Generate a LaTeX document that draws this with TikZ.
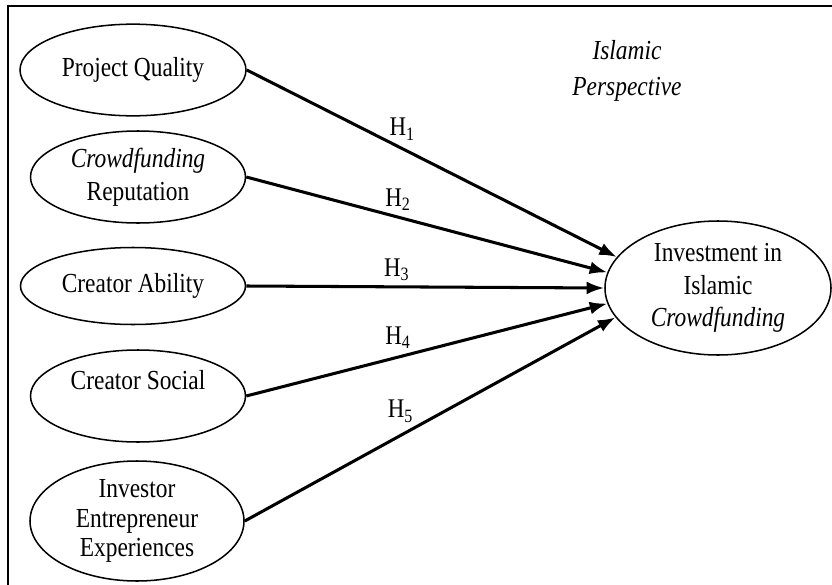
\documentclass[tikz,border=0pt]{standalone}
\usepackage{fontspec}
\setmainfont{Liberation Serif}[FakeStretch=0.85]
\usetikzlibrary{shapes.geometric,arrows.meta,positioning}

\begin{document}
\begin{tikzpicture}[x=0.03cm,y=-0.03cm,
	construct/.style={ellipse,draw,line width=1.3pt,inner sep=0pt,align=center,
		font=\fontsize{23.5}{28}\selectfont},
	hypo/.style={line width=2.6pt,-{Latex[length=15pt,width=11pt]}},
	hlabel/.style={font=\fontsize{23}{24}\selectfont,inner sep=2pt,pos=.42}]
	\useasboundingbox (0,0) rectangle (832,585);
	% Frame (cut at right and bottom)
	\draw[line width=1.4pt] (8,585) -- (8,6) -- (832,6);
	% Independent constructs
	\node[construct,minimum width=6.78cm,minimum height=2.75cm] (pq) at (133,70) {Project Quality};
	\node[construct,minimum width=6.45cm,minimum height=2.76cm] (cr) at (138,177) {\textit{Crowdfunding}\\Reputation};
	\node[construct,minimum width=6.75cm,minimum height=2.31cm] (ca) at (133,286) {Creator Ability};
	\node[construct,minimum width=6.45cm,minimum height=2.76cm] (cs) at (138,396) {Creator Social\\\phantom{S}};
	\node[construct,minimum width=6.42cm,minimum height=3.6cm,
		font=\fontsize{23.5}{25.5}\selectfont] (ie) at (137,521) {Investor\\Entrepreneur\\Experiences};
	% Dependent construct
	\node[construct,minimum width=6.78cm,minimum height=4.02cm] (inv) at (718,288) {Investment in\\Islamic\\\textit{Crowdfunding}};
	% Context
	\node[align=center,font=\fontsize{23.5}{30.6}\selectfont\itshape] (persp) at (627,71) {Islamic\\Perspective};
	% Hypotheses
	\draw[hypo] (pq.east) -- (inv.163) node[hlabel,above=4pt] {H\textsubscript{1}};
	\draw[hypo] (cr.east) -- (inv.172) node[hlabel,above=2pt] {H\textsubscript{2}};
	\draw[hypo] (ca.east) -- (inv.west) node[hlabel,above=2pt] {H\textsubscript{3}};
	\draw[hypo] (cs.east) -- (inv.188) node[hlabel,above=4pt] {H\textsubscript{4}};
	\draw[hypo] (ie.east) -- (inv.196) node[hlabel,above=8pt] {H\textsubscript{5}};
\end{tikzpicture}
\end{document}
